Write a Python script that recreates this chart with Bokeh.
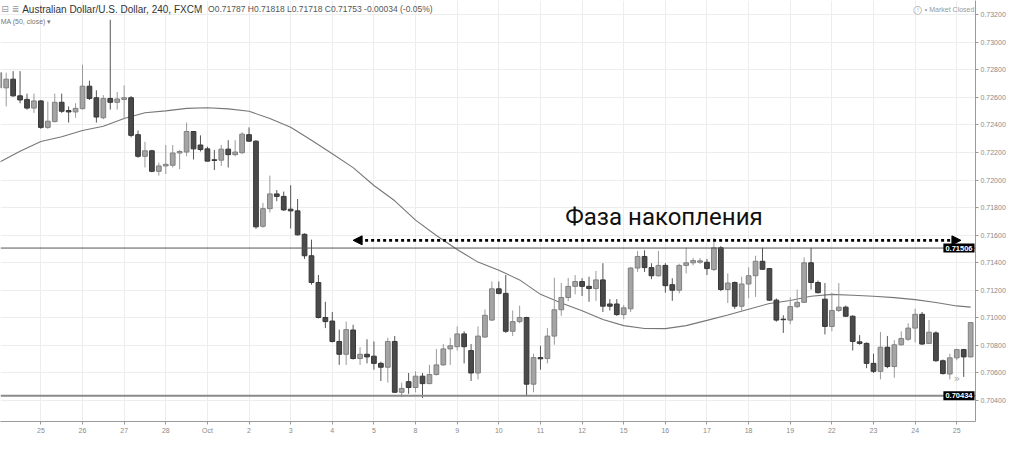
from bokeh.plotting import figure
from bokeh.models import (Range1d, FixedTicker, Span, Label, Arrow, NormalHead,
                          ColumnDataSource, PrintfTickFormatter)
from bokeh.embed import file_html
from bokeh.resources import INLINE

# ---------------- data (AUD/USD, 240 min, FXCM) ----------------
day_labels = ["24", "25", "26", "27", "28", "Oct", "2", "3", "4", "5", "8", "9", "10",
              "11", "12", "15", "16", "17", "18", "19", "22", "23", "24", "25"]
bars_per_day = 6

bar_open = [
    0.72669, 0.72669, 0.72732, 0.72611, 0.72585, 0.72522, 0.72574, 0.72382, 0.72424, 0.72564,
    0.72504, 0.72494, 0.72518, 0.72681, 0.72597, 0.72452, 0.72592, 0.72564, 0.72585, 0.72597,
    0.72329, 0.72172, 0.72212, 0.72063, 0.72102, 0.72107, 0.72196, 0.72203, 0.72352, 0.72254,
    0.72226, 0.72147, 0.72144, 0.72224, 0.72184, 0.72198, 0.72329, 0.72282, 0.71664, 0.71792,
    0.71899, 0.71881, 0.71788, 0.71776, 0.71606, 0.71450, 0.71256, 0.71002, 0.70976, 0.70828,
    0.70735, 0.70911, 0.70704, 0.70735, 0.70721, 0.70669, 0.70641, 0.70828, 0.70459, 0.70536,
    0.70494, 0.70576, 0.70522, 0.70588, 0.70658, 0.70774, 0.70790, 0.70883, 0.70762, 0.70599,
    0.70860, 0.70983, 0.71210, 0.71177, 0.70902, 0.70972, 0.71002, 0.70518, 0.70711, 0.70704,
    0.70867, 0.71058, 0.71147, 0.71228, 0.71263, 0.71228, 0.71212, 0.71275, 0.71100, 0.71100,
    0.71023, 0.71065, 0.71361, 0.71445, 0.71364, 0.71305, 0.71380, 0.71240, 0.71200, 0.71380,
    0.71399, 0.71403, 0.71403, 0.71350, 0.71508, 0.71205, 0.71256, 0.71084, 0.71245, 0.71305,
    0.71410, 0.71357, 0.71128, 0.70990, 0.70983, 0.71081, 0.71112, 0.71399, 0.71256, 0.71135,
    0.70937, 0.71053, 0.71077, 0.71011, 0.70825, 0.70814, 0.70669, 0.70611, 0.70786, 0.70646,
    0.70804, 0.70844, 0.70925, 0.71025, 0.70814, 0.70890, 0.70688, 0.70592, 0.70709, 0.70769,
    0.70716]

bar_high = [
    0.72800, 0.72779, 0.72790, 0.72790, 0.72627, 0.72627, 0.72581, 0.72569, 0.72627, 0.72627,
    0.72534, 0.72557, 0.72837, 0.72721, 0.72651, 0.72616, 0.73163, 0.72639, 0.72686, 0.72609,
    0.72359, 0.72277, 0.72219, 0.72126, 0.72254, 0.72254, 0.72219, 0.72417, 0.72352, 0.72324,
    0.72242, 0.72219, 0.72254, 0.72289, 0.72289, 0.72347, 0.72382, 0.72289, 0.71834, 0.72032,
    0.71927, 0.71916, 0.71962, 0.71862, 0.71613, 0.71567, 0.71310, 0.71116, 0.71042, 0.70914,
    0.70972, 0.70949, 0.70786, 0.70844, 0.70828, 0.70681, 0.70855, 0.70867, 0.70529, 0.70599,
    0.70611, 0.70599, 0.70658, 0.70774, 0.70809, 0.70855, 0.70937, 0.70902, 0.70809, 0.70937,
    0.71060, 0.71263, 0.71263, 0.71310, 0.71053, 0.71088, 0.71007, 0.70739, 0.70797, 0.70925,
    0.71291, 0.71252, 0.71289, 0.71310, 0.71287, 0.71298, 0.71340, 0.71396, 0.71135, 0.71135,
    0.71093, 0.71368, 0.71485, 0.71490, 0.71396, 0.71485, 0.71396, 0.71287, 0.71392, 0.71508,
    0.71434, 0.71434, 0.71427, 0.71578, 0.71520, 0.71322, 0.71263, 0.71298, 0.71366, 0.71450,
    0.71508, 0.71361, 0.71140, 0.71018, 0.71147, 0.71205, 0.71438, 0.71508, 0.71270, 0.71252,
    0.71182, 0.71252, 0.71088, 0.71018, 0.70874, 0.70821, 0.70739, 0.70897, 0.70867, 0.70837,
    0.70902, 0.70960, 0.71065, 0.71042, 0.70983, 0.70902, 0.70697, 0.70739, 0.70774, 0.70774,
    0.70965]

bar_low = [
    0.72653, 0.72534, 0.72604, 0.72557, 0.72511, 0.72487, 0.72371, 0.72371, 0.72417, 0.72487,
    0.72417, 0.72452, 0.72511, 0.72581, 0.72417, 0.72441, 0.72511, 0.72511, 0.72441, 0.72310,
    0.72161, 0.72091, 0.72056, 0.72032, 0.72044, 0.72091, 0.72079, 0.72172, 0.72149, 0.72207,
    0.72137, 0.72072, 0.72102, 0.72091, 0.72172, 0.72189, 0.72277, 0.71646, 0.71653, 0.71764,
    0.71846, 0.71776, 0.71648, 0.71597, 0.71427, 0.71240, 0.70995, 0.70925, 0.70821, 0.70658,
    0.70658, 0.70697, 0.70658, 0.70669, 0.70623, 0.70541, 0.70529, 0.70455, 0.70424, 0.70448,
    0.70459, 0.70417, 0.70518, 0.70581, 0.70651, 0.70658, 0.70762, 0.70669, 0.70541, 0.70553,
    0.70855, 0.70976, 0.71170, 0.70890, 0.70867, 0.70960, 0.70431, 0.70459, 0.70623, 0.70669,
    0.70804, 0.71014, 0.71121, 0.71170, 0.71158, 0.71116, 0.71123, 0.71042, 0.71053, 0.71014,
    0.70990, 0.71042, 0.71333, 0.71333, 0.71280, 0.71298, 0.71182, 0.71123, 0.71177, 0.71322,
    0.71380, 0.71392, 0.71310, 0.71340, 0.71193, 0.71107, 0.71065, 0.71053, 0.71142, 0.71151,
    0.71350, 0.71123, 0.70972, 0.70890, 0.70953, 0.71070, 0.71107, 0.71205, 0.71177, 0.70879,
    0.70902, 0.71042, 0.71007, 0.70762, 0.70804, 0.70634, 0.70599, 0.70553, 0.70634, 0.70564,
    0.70797, 0.70832, 0.70821, 0.70804, 0.70809, 0.70681, 0.70588, 0.70553, 0.70692, 0.70571,
    0.70712]

bar_close = [
    0.72779, 0.72732, 0.72611, 0.72581, 0.72522, 0.72574, 0.72382, 0.72427, 0.72564, 0.72499,
    0.72494, 0.72520, 0.72681, 0.72592, 0.72457, 0.72592, 0.72564, 0.72588, 0.72597, 0.72324,
    0.72172, 0.72212, 0.72063, 0.72102, 0.72114, 0.72196, 0.72207, 0.72352, 0.72226, 0.72221,
    0.72137, 0.72142, 0.72224, 0.72184, 0.72203, 0.72333, 0.72282, 0.71660, 0.71792, 0.71899,
    0.71881, 0.71783, 0.71776, 0.71602, 0.71450, 0.71256, 0.71002, 0.70972, 0.70828, 0.70735,
    0.70914, 0.70704, 0.70735, 0.70716, 0.70669, 0.70641, 0.70828, 0.70459, 0.70487, 0.70494,
    0.70576, 0.70522, 0.70588, 0.70658, 0.70774, 0.70797, 0.70883, 0.70790, 0.70599, 0.70867,
    0.71018, 0.71210, 0.71177, 0.70902, 0.70972, 0.71002, 0.70518, 0.70711, 0.70702, 0.70867,
    0.71058, 0.71147, 0.71228, 0.71263, 0.71228, 0.71212, 0.71275, 0.71084, 0.71084, 0.71023,
    0.71072, 0.71361, 0.71445, 0.71364, 0.71305, 0.71380, 0.71233, 0.71200, 0.71380, 0.71399,
    0.71415, 0.71413, 0.71357, 0.71508, 0.71205, 0.71252, 0.71084, 0.71245, 0.71305, 0.71410,
    0.71352, 0.71128, 0.70983, 0.70986, 0.71081, 0.71112, 0.71399, 0.71256, 0.71182, 0.70937,
    0.71053, 0.71077, 0.71011, 0.70828, 0.70814, 0.70669, 0.70611, 0.70786, 0.70646, 0.70804,
    0.70849, 0.70925, 0.71025, 0.70809, 0.70895, 0.70688, 0.70595, 0.70709, 0.70769, 0.70716,
    0.70965]

# MA(50, close) at every third bar
ma_bar = [0, 3, 6, 9, 12, 15, 18, 21, 24, 27, 30, 33, 36, 39, 42, 45, 48, 51, 54, 57,
          60, 63, 66, 69, 72, 75, 78, 81, 84, 87, 90, 93, 96, 99, 102, 105, 108, 111, 114,
          117, 120, 123, 126, 129, 132, 135, 138, 140]
ma_value = [0.72128, 0.72209, 0.72279, 0.72314, 0.72359, 0.72390, 0.72446, 0.72488, 0.72502,
            0.72520, 0.72524, 0.72516, 0.72499, 0.72446, 0.72383, 0.72289, 0.72191, 0.72090,
            0.71960, 0.71849, 0.71709, 0.71597, 0.71495, 0.71404, 0.71345, 0.71275, 0.71170,
            0.71107, 0.71051, 0.70988, 0.70943, 0.70922, 0.70921, 0.70943, 0.70981, 0.71020,
            0.71062, 0.71104, 0.71125, 0.71156, 0.71170, 0.71163, 0.71156, 0.71146, 0.71132,
            0.71111, 0.71086, 0.71077]

level_high = 0.71506
level_low = 0.70434
y_ticks = [0.704, 0.706, 0.708, 0.710, 0.712, 0.714, 0.716, 0.718, 0.720,
           0.722, 0.724, 0.726, 0.728, 0.730, 0.732]

zone_label = "Фаза накопления"
zone_from_bar, zone_to_bar, zone_price = 51.0, 138.6, 0.71562

# ---------------- figure ----------------
X0, X1 = 0.18, 140.7
Y0, Y1 = 0.70247, 0.73303

p = figure(width=1008, height=436, output_backend="svg", toolbar_location=None,
           x_range=Range1d(X0, X1), y_range=Range1d(Y0, Y1),
           y_axis_location="right", min_border_left=0, min_border_top=0,
           min_border_right=0, min_border_bottom=0, background_fill_color="white",
           border_fill_color="white", outline_line_color=None)

idx = list(range(len(bar_open)))
up = [c >= o for o, c in zip(bar_open, bar_close)]
src = ColumnDataSource(dict(
    x=idx, high=bar_high, low=bar_low,
    top=[max(o, c) for o, c in zip(bar_open, bar_close)],
    bottom=[min(o, c) for o, c in zip(bar_open, bar_close)],
    body=["#a4a4a4" if u else "#4a4a4a" for u in up],
    edge=["#808080" if u else "#363636" for u in up],
    wick=["#9a9a9a" if u else "#555555" for u in up],
))

# grid
p.xgrid.ticker = FixedTicker(ticks=[i * bars_per_day for i in range(len(day_labels))])
p.ygrid.ticker = FixedTicker(ticks=y_ticks)
p.xgrid.grid_line_color = "#ededed"
p.ygrid.grid_line_color = "#ededed"

# levels
p.add_layout(Span(location=level_high, dimension="width", line_color="#555555", line_width=1))
p.add_layout(Span(location=level_low, dimension="width", line_color="#8a8a8a", line_width=2))

# MA
p.line(ma_bar, ma_value, line_color="#777777", line_width=1.1)

# candles
p.segment(x0="x", y0="high", x1="x", y1="low", source=src, line_color="wick", line_width=1)
p.vbar(x="x", width=0.68, top="top", bottom="bottom", source=src,
       fill_color="body", line_color="edge", line_width=1)

# axes
ax = p.xaxis[0]
ax.ticker = FixedTicker(ticks=[i * bars_per_day for i in range(len(day_labels))])
ax.major_label_overrides = {i * bars_per_day: lab for i, lab in enumerate(day_labels)}
ay = p.yaxis[0]
ay.ticker = FixedTicker(ticks=y_ticks)
ay.formatter = PrintfTickFormatter(format="%.5f")
for a in (ax, ay):
    a.axis_line_color = "#9a9a9a"
    a.major_tick_line_color = "#9a9a9a"
    a.major_tick_out = 3
    a.major_tick_in = 0
    a.minor_tick_line_color = None
    a.major_label_text_font = "Liberation Sans"
    a.major_label_text_font_size = "7px"
    a.major_label_text_color = "#8a8a8a"
    a.major_label_standoff = 2

# price tags at the right edge of the price pane
for lvl in (level_high, level_low):
    p.add_layout(Label(x=X1, y=lvl, text=f"{lvl:.5f}", x_offset=-1,
                       text_baseline="middle", text_align="right",
                       text_font="Liberation Sans", text_font_size="7.5px",
                       text_font_style="bold", text_color="white",
                       background_fill_color="black", padding=2))

# zone arrow and text
p.add_layout(Arrow(x_start=zone_from_bar, y_start=zone_price, x_end=zone_to_bar, y_end=zone_price,
                   line_color="black", line_width=2.6, line_dash="3 3",
                   start=NormalHead(size=9, fill_color="black", line_color="black", line_width=1),
                   end=NormalHead(size=9, fill_color="black", line_color="black", line_width=1)))
p.add_layout(Label(x=(zone_from_bar + zone_to_bar) / 2 + 1.0, y=0.71735, text=zone_label,
                   text_align="center", text_baseline="alphabetic",
                   text_font="Roboto", text_font_size="24px", text_color="#111111"))

# header texts
hdr_y = 0.73240
p.add_layout(Label(x=0.3, y=hdr_y, text="⊟ ≣", text_baseline="middle",
                   text_font="DejaVu Sans", text_font_size="9px", text_color="#9a9a9a"))
p.add_layout(Label(x=3.3, y=hdr_y, text="Australian Dollar/U.S. Dollar, 240, FXCM",
                   text_baseline="middle", text_font="Liberation Sans",
                   text_font_size="10px", text_color="#333333"))
p.add_layout(Label(x=28.0, y=hdr_y, text="▾", text_baseline="middle",
                   text_font="DejaVu Sans", text_font_size="8px", text_color="#bbbbbb"))
p.add_layout(Label(x=30.1, y=hdr_y,
                   text="O0.71787  H0.71818  L0.71718  C0.71753  -0.00034 (-0.05%)",
                   text_baseline="middle", text_font="Liberation Sans",
                   text_font_size="8.5px", text_color="#555555"))
p.add_layout(Label(x=0.2, y=0.73150, text="MA (50, close)  ▾", text_baseline="middle",
                   text_font="Liberation Sans", text_font_size="7px", text_color="#777777"))
p.add_layout(Label(x=132.4, y=hdr_y, text="○", text_baseline="middle", text_align="center",
                   text_font="DejaVu Sans", text_font_size="11px", text_color="#aaaaaa"))
p.add_layout(Label(x=132.4, y=hdr_y, text="!", text_baseline="middle", text_align="center",
                   text_font="DejaVu Sans", text_font_size="6px", text_color="#aaaaaa"))
p.add_layout(Label(x=133.4, y=hdr_y, text="• Market Closed", text_baseline="middle",
                   text_font="Liberation Sans", text_font_size="7px", text_color="#999999"))
p.add_layout(Label(x=138.0, y=0.70560, text="»", text_baseline="middle", text_align="center",
                   text_font="DejaVu Sans", text_font_size="11px", text_color="#aaaaaa"))

open("out.html", "w").write(file_html(p, INLINE))
